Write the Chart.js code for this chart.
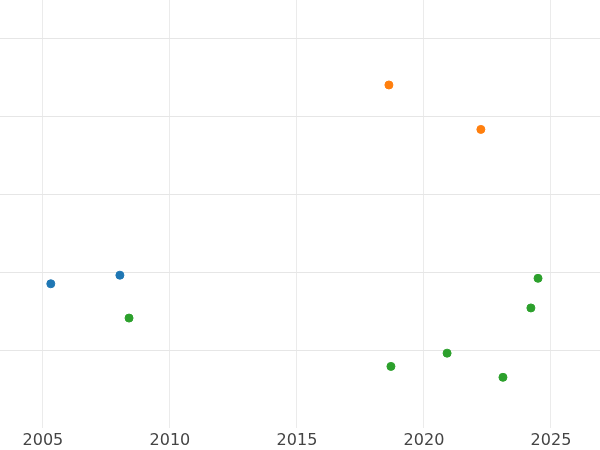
<!DOCTYPE html>
<html>
<head>
<meta charset="utf-8">
<script src="https://cdn.jsdelivr.net/npm/chart.js@4"></script>
<style>body{margin:0;background:#fff}</style>
</head>
<body>
<canvas id="c" width="600" height="450"></canvas>
<script>
// Values
const blueX = [2005.31, 2008.03];
const blueY = [1.85, 1.96];
const orangeX = [2018.62, 2022.24];
const orangeY = [4.40, 3.83];
const greenX = [2008.39, 2018.70, 2020.91, 2023.11, 2024.21, 2024.49];
const greenY = [1.41, 0.79, 0.96, 0.65, 1.54, 1.92];
const xTicks = [2005, 2010, 2015, 2020, 2025];
const yTicks = [1, 2, 3, 4, 5];

function pts(xs, ys) { return xs.map((x, i) => ({ x: x, y: ys[i] })); }
function ds(xs, ys, color) {
    return { data: pts(xs, ys), backgroundColor: color, borderColor: color, pointRadius: 4, pointHoverRadius: 4 };
}

new Chart(document.getElementById('c'), {
    type: 'scatter',
    data: {
        datasets: [
            ds(blueX, blueY, '#1f77b4'),
            ds(orangeX, orangeY, '#ff7f0e'),
            ds(greenX, greenY, '#2ca02c')
        ]
    },
    options: {
        responsive: false,
        animation: false,
        layout: { padding: 0, autoPadding: false },
        plugins: { legend: { display: false }, tooltip: { enabled: false } },
        scales: {
            x: {
                type: 'linear', min: 2003.31, max: 2026.93,
                afterBuildTicks: s => { s.ticks = xTicks.map(v => ({ value: v })); },
                afterFit: s => { s.height = 22; },
                grid: { color: '#ebebeb', drawTicks: false },
                border: { display: false },
                ticks: { color: '#444', font: { size: 16, family: 'DejaVu Sans' }, padding: 3, callback: v => String(v) }
            },
            y: {
                min: 0, max: 5.49,
                afterBuildTicks: s => { s.ticks = yTicks.map(v => ({ value: v })); },
                afterFit: s => { s.width = 0; },
                grid: { color: '#e6e6e6', drawTicks: false },
                border: { display: false },
                ticks: { display: false }
            }
        }
    }
});
</script>
</body>
</html>
